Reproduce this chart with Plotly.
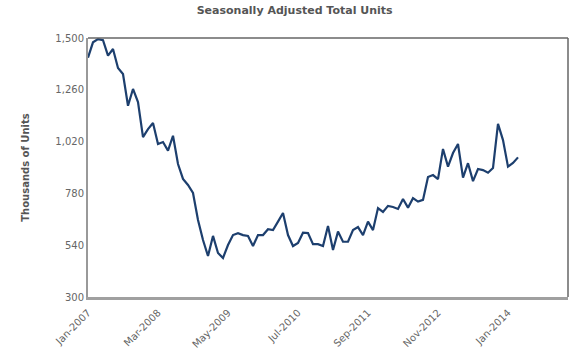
import pandas as pd
import plotly.graph_objects as go

# Monthly labels Jan-2007 .. Mar-2014
months = [d.strftime("%b-%Y") for d in pd.date_range("2007-01-01", "2014-03-01", freq="MS")]

units = [
    1409, 1480, 1495, 1490, 1418, 1449, 1361, 1333, 1186, 1264, 1203, 1041,
    1078, 1106, 1009, 1018, 978, 1047, 916, 847, 819, 782, 657, 564,
    490, 583, 504, 481, 541, 587, 596, 587, 583, 536, 587, 587,
    614, 610, 649, 689, 587, 536, 550, 598, 596, 545, 545, 536,
    629, 518, 603, 556, 556, 610, 624, 587, 649, 610, 712, 694,
    722, 717, 708, 754, 714, 758, 742, 750, 856, 865, 846, 986,
    904, 967, 1009, 853, 920, 837, 893, 888, 876, 898, 1102, 1027,
    904, 921, 947,
]

x_ticks = ["Jan-2007", "Mar-2008", "May-2009", "Jul-2010", "Sep-2011", "Nov-2012", "Jan-2014"]
y_ticks = [300, 540, 780, 1020, 1260, 1500]

title = "Seasonally Adjusted Total Units"
y_title = "Thousands of Units"

fig = go.Figure()
fig.add_trace(go.Scatter(
    x=months, y=units, mode="lines",
    line=dict(color="#1d3f6e", width=2.2),
    hoverinfo="x+y", showlegend=False,
))

font_fam = "DejaVu Sans, Verdana, sans-serif"
fig.update_layout(
    width=580, height=351,
    margin=dict(l=88, r=12, t=38, b=54, autoexpand=False),
    paper_bgcolor="white", plot_bgcolor="white",
    title=dict(text="<b>" + title + "</b>", x=0.508, xanchor="center", y=0.972, yanchor="middle",
               font=dict(family=font_fam, size=11, color="#555555")),
    font=dict(family=font_fam, size=10, color="#666666"),
    xaxis=dict(
        type="category", categoryorder="array", categoryarray=months,
        range=[0, 96], tickmode="array", tickvals=x_ticks, ticktext=x_ticks,
        tickangle=-45, showgrid=False, zeroline=False, automargin=False,
        showline=True, linecolor="#a0a0a0", linewidth=3,
        ticks="", ticklabelstandoff=3, tickfont=dict(size=10, color="#666666"),
    ),
    yaxis=dict(
        range=[300, 1500], tickmode="array", tickvals=y_ticks,
        tickformat=",", showgrid=False, zeroline=False, automargin=False,
        showline=True, linecolor="#999999", linewidth=2,
        ticks="", tickfont=dict(size=10, color="#666666"),
        title=dict(text="<b>" + y_title + "</b>", standoff=24,
                   font=dict(family=font_fam, size=10, color="#555555")),
    ),
    shapes=[
        dict(type="line", xref="paper", yref="paper", x0=0, x1=1, y0=1, y1=1,
             line=dict(color="#666666", width=1.5)),
        dict(type="line", xref="paper", yref="paper", x0=1, x1=1, y0=0, y1=1,
             line=dict(color="#666666", width=1.5)),
    ],
)

fig.write_html("out.html")
